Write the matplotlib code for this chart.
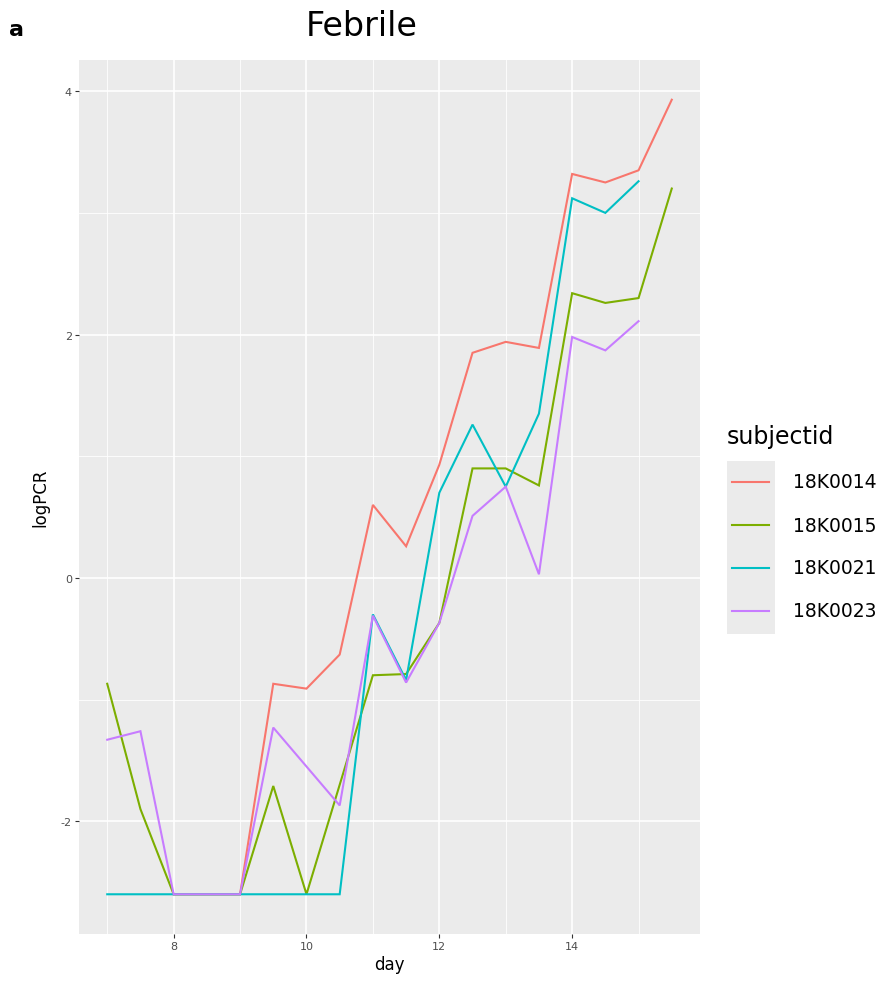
import matplotlib
matplotlib.use("Agg")
import matplotlib.pyplot as plt
from matplotlib.lines import Line2D
from matplotlib.patches import Rectangle

plt.rcParams["axes.unicode_minus"] = False
plt.rcParams["font.family"] = ["DejaVu Sans"]

# logPCR per subject, sampled every half day
days_14 = [8, 8.5, 9, 9.5, 10, 10.5, 11, 11.5, 12, 12.5, 13, 13.5, 14, 14.5, 15, 15.5]
pcr_14 = [-2.6, -2.6, -2.6, -0.87, -0.91, -0.63, 0.60, 0.26, 0.93, 1.85, 1.94, 1.89, 3.32, 3.25, 3.35, 3.93]

days_15 = [7, 7.5, 8, 8.5, 9, 9.5, 10, 11, 11.5, 12, 12.5, 13, 13.5, 14, 14.5, 15, 15.5]
pcr_15 = [-0.87, -1.9, -2.6, -2.6, -2.6, -1.71, -2.6, -0.80, -0.79, -0.37, 0.90, 0.90, 0.76, 2.34, 2.26, 2.30, 3.20]

days_21 = [7, 7.5, 8, 8.5, 9, 9.5, 10, 10.5, 11, 11.5, 12, 12.5, 13, 13.5, 14, 14.5, 15]
pcr_21 = [-2.6, -2.6, -2.6, -2.6, -2.6, -2.6, -2.6, -2.6, -0.30, -0.84, 0.70, 1.26, 0.75, 1.35, 3.12, 3.00, 3.26]

days_23 = [7, 7.5, 8, 8.5, 9, 9.5, 10.5, 11, 11.5, 12, 12.5, 13, 13.5, 14, 14.5, 15]
pcr_23 = [-1.33, -1.26, -2.6, -2.6, -2.6, -1.23, -1.87, -0.31, -0.86, -0.37, 0.51, 0.75, 0.03, 1.98, 1.87, 2.11]

subjects = ["18K0014", "18K0015", "18K0021", "18K0023"]
series_days = [days_14, days_15, days_21, days_23]
series_pcr = [pcr_14, pcr_15, pcr_21, pcr_23]
colors = ["#F8766D", "#7CAE00", "#00BFC4", "#C77CFF"]

W, H = 895, 987
fig = plt.figure(figsize=(W / 100, H / 100), dpi=100)


def fx(px):
    return px / W


def fy(py):
    return 1 - py / H


ax = fig.add_axes([fx(79), fy(935), fx(700) - fx(79), fy(61) - fy(935)])
ax.set_facecolor("#EBEBEB")
for s in ax.spines.values():
    s.set_visible(False)

for d, v, c in zip(series_days, series_pcr, colors):
    ax.plot(d, v, color=c, lw=1.5, solid_joinstyle="miter")

# ggplot-style 5% expansion
all_d = [x for d in series_days for x in d]
all_v = [x for v in series_pcr for x in v]
dx = (max(all_d) - min(all_d)) * 0.05
dy = (max(all_v) - min(all_v)) * 0.05
ax.set_xlim(min(all_d) - dx, max(all_d) + dx)
ax.set_ylim(min(all_v) - dy, max(all_v) + dy)

ax.set_xticks([8, 10, 12, 14])
ax.set_xticks([7, 9, 11, 13, 15], minor=True)
ax.set_yticks([-2, 0, 2, 4])
ax.set_yticks([-1, 1, 3], minor=True)
ax.grid(which="major", color="white", lw=1.2)
ax.grid(which="minor", color="white", lw=0.6)
ax.set_axisbelow(True)
ax.tick_params(which="major", length=3, width=0.8, color="#333333",
               labelsize=8, labelcolor="#4D4D4D", pad=2)
ax.tick_params(which="minor", length=0)

ax.set_xlabel("day", fontsize=12, labelpad=3)
ax.set_ylabel("logPCR", fontsize=12, labelpad=8)

fig.text(fx(362), fy(26), "Febrile", fontsize=24, ha="center", va="center")
fig.text(fx(9), fy(30), "a", fontsize=16, fontweight="bold", ha="left", va="center")

# legend
fig.text(fx(727), fy(437), "subjectid", fontsize=17, ha="left", va="center")
fig.add_artist(Rectangle((fx(727), fy(635)), fx(775) - fx(727), fy(462) - fy(635),
                         transform=fig.transFigure, facecolor="#EBEBEB", edgecolor="none"))
for i, (name, c) in enumerate(zip(subjects, colors)):
    yy = 483 + i * 43
    fig.add_artist(Line2D([fx(732), fx(769)], [fy(yy), fy(yy)], color=c, lw=1.5,
                          transform=fig.transFigure))
    fig.text(fx(793), fy(yy), name, fontsize=13.5, ha="left", va="center")

fig.savefig("out.png", dpi=100)
